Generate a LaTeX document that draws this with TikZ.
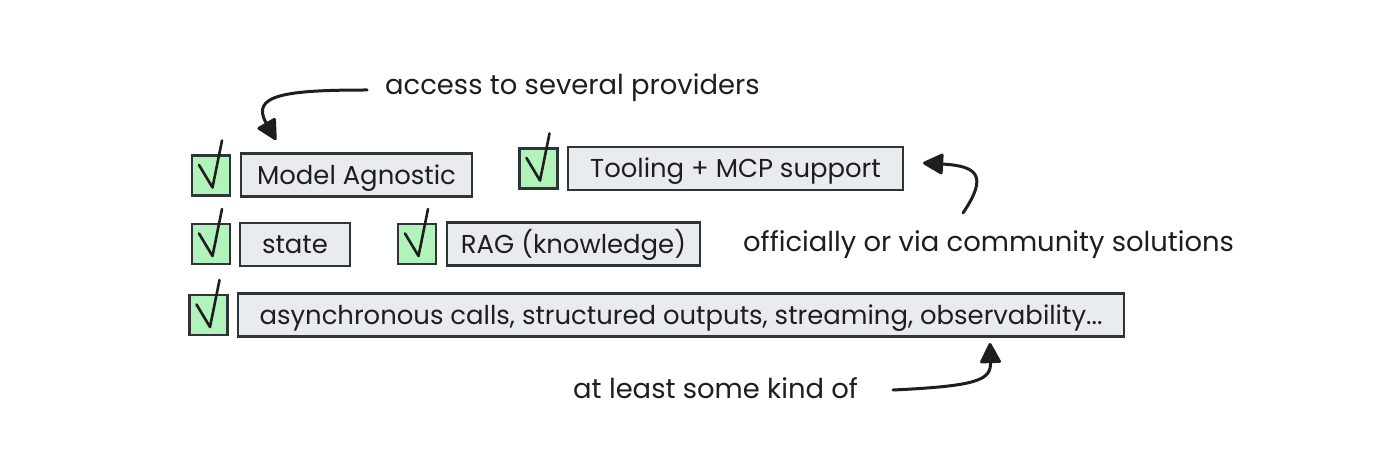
\documentclass[tikz,border=0pt]{standalone}
\usepackage{fontspec}
\setmainfont{Poppins}
\usetikzlibrary{arrows.meta,calc}
\definecolor{ink}{HTML}{1E1E1E}
\definecolor{boxfill}{HTML}{E9ECEF}
\definecolor{chkfill}{HTML}{B2F2BB}
\definecolor{edge}{HTML}{2F3439}
\newcommand\drawtick[1]{\draw[chk] ($(#1)+(-12,-10.5)$) -- ($(#1)+(1.5,12)$) -- ($(#1)+(11,-35)$);}
\begin{document}
\begin{tikzpicture}[x=1bp,y=-1bp,
  lbl/.style={font=\fontsize{27.5}{32}\selectfont, text=ink, inner sep=0pt, anchor=base west},
  itembox/.style={font=\fontsize{26}{30}\selectfont, text=ink, draw=edge, line width=2.6bp, fill=boxfill, minimum height=43bp, inner sep=0pt, text height=19bp, text depth=0bp},
  cbox/.style={draw=edge, line width=2.6bp, fill=chkfill, minimum width=38bp, minimum height=40bp, inner sep=0pt},
  chk/.style={draw=ink, line width=2.6bp, line join=round, line cap=round},
  arr/.style={draw=ink, line width=3bp, line cap=round, -{Triangle[length=22bp,width=22bp,round]}}]
\useasboundingbox (0,0) rectangle (1400,471);
\fill[white] (0,0) rectangle (1400,471);
% row 1
\node[cbox] (c1) at (211,175.5) {};
\node[itembox, minimum width=231bp] (b1) at (356.5,175) {Model Agnostic};
\node[cbox] (c2) at (538.5,168.5) {};
\node[itembox, minimum width=335bp] (b2) at (735.5,168.5) {Tooling + MCP support};
% row 2
\node[cbox] (c3) at (211,244) {};
\node[itembox, minimum width=110bp] (b3) at (295,244.5) {state};
\node[cbox] (c4) at (417,244) {};
\node[itembox, minimum width=253bp] (b4) at (573.5,244) {RAG (knowledge)};
% row 3
\node[cbox] (c5) at (208.5,315) {};
\node[itembox, minimum width=886bp] (b5) at (681,315) {asynchronous calls, structured outputs, streaming, observability...};
% ticks
\drawtick{c1}
\drawtick{c2}
\drawtick{c3}
\drawtick{c4}
\drawtick{c5}
% labels
\node[lbl] (t1) at (385,95) {access to several providers};
\node[lbl] (t2) at (743,252) {officially or via community solutions};
\node[lbl] (t3) at (573,398) {at least some kind of};
% arrows
\coordinate (a1s) at (367,90);
\coordinate (a1e) at (276,140);
\coordinate (a2s) at (963,213);
\coordinate (a2e) at (923,163);
\coordinate (a3s) at (893,390);
\coordinate (a3e) at (990,343);
\draw[arr] (a1s) .. controls (285,90) and (250,95) .. (a1e);
\draw[arr] (a2s) .. controls (988,176) and (978,166) .. (a2e);
\draw[arr] (a3s) .. controls (978,386) and (991,380) .. (a3e);
\end{tikzpicture}
\end{document}
